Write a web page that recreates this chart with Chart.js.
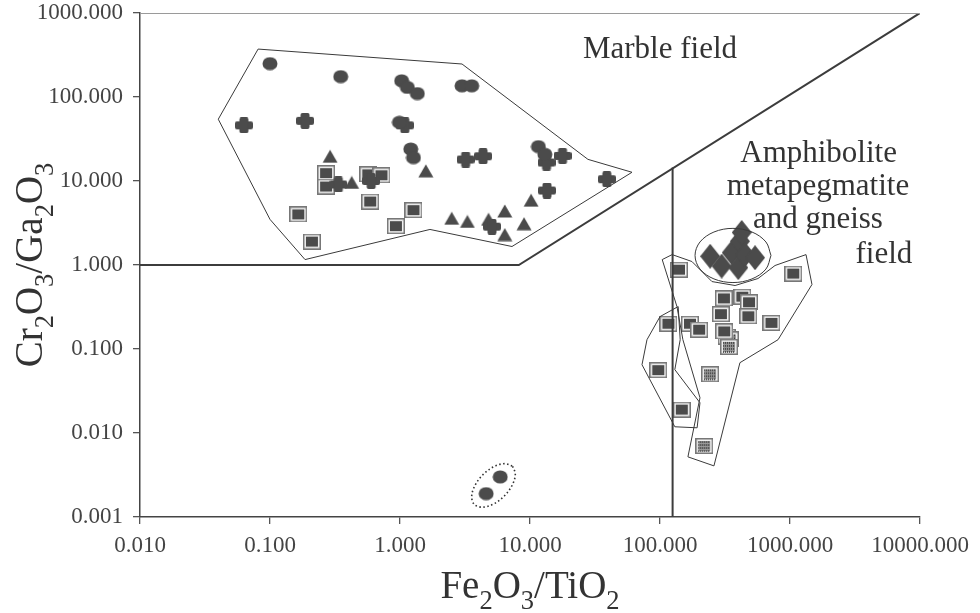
<!DOCTYPE html>
<html><head><meta charset="utf-8">
<script src="https://cdn.jsdelivr.net/npm/chart.js@4/dist/chart.umd.min.js"></script>
<style>html,body{margin:0;padding:0;background:#fff}#wrap{width:980px;height:613px}</style>
</head><body><div id="wrap"><canvas id="c" width="980" height="613"></canvas></div>
<script>
// ---------- DATA ----------
const xTicks = [0.01, 0.1, 1, 10, 100, 1000, 10000];
const yTicks = [0.001, 0.01, 0.1, 1, 10, 100, 1000];

const circles = [[0.10,250],[0.35,175],[1.03,156],[1.14,130],[1.36,110],[3.0,136],[3.56,136],
  [0.99,50],[1.21,24],[1.27,19],[11.6,25.7],[13.0,20.8],[5.9,0.0030],[4.6,0.0019]];
const crosses = [[0.063,46],[0.186,52],[1.09,46],[0.335,9.1],[0.60,10],[3.2,18],[4.35,19.7],
  [13.4,16.6],[17.8,19.9],[13.5,7.7],[39,10.5],[5.1,2.86]];
const triangles = [[0.29,19.7],[0.425,9.6],[1.58,13.2],[2.5,3.6],[3.3,3.3],[4.8,3.5],[6.4,4.4],
  [6.4,2.3],[9.0,3.1],[10.2,5.9]];
const framedSquares = [[0.27,12.4],[0.27,8.6],[0.57,12.0],[0.72,11.7],[0.59,5.7],[0.165,4.0],
  [1.27,4.5],[0.93,2.9],[0.21,1.9],
  [140,0.88],[1060,0.79],[310,0.40],[430,0.42],[484,0.36],[294,0.26],[478,0.245],[720,0.205],
  [116,0.20],[170,0.20],[200,0.17],[312,0.162],[97,0.056],[147,0.019]];
const texturedSquares = [[326,0.14],[345,0.13],[340,0.106],[243,0.050],[219,0.0070]];
const diamonds = [[243,1.27],[298,0.97],[356,1.40],[412,1.92],[425,2.44],[400,0.93],[451,1.33],[538,1.22]];

// field boundaries
const marbleBoundary = [[0.01,1],[8.2,1],[10000,1000]];
const amphiboliteBoundary = [[125,0.001],[125,14.5]];

// group outlines
const marbleOutline = [[0.081,372],[3.0,247],[27.9,18.1],[60.9,12.7],[7.27,1.66],[1.70,2.65],
  [0.186,1.16],[0.10,3.49],[0.040,54.4],[0.081,372]];
const diamondOutline = [[714,1.30],[653,1.88],[510,2.47],[364,2.73],[260,2.47],[203,1.88],[186,1.30],
  [203,0.895],[260,0.683],[364,0.618],[510,0.683],[653,0.895],[714,1.30]];
const rightOutline = [[104,1.16],[135,0.32],[150,0.129],[203,0.0263],[164,0.0052],[260,0.00406],
  [412,0.0687],[809,0.129],[1476,0.586],[1328,1.33],[767,0.986],[567,0.69],[378,0.57],[251,0.635],
  [176,1.10],[124,1.33],[104,1.16]];
const lowerOutline = [[100,0.243],[138,0.32],[143,0.129],[130,0.0568],[203,0.0229],[193,0.01153],
  [130,0.01186],[72.7,0.065],[79.4,0.129],[100,0.243]];
const dottedOutline = [[7.35,0.00402],[7.71,0.00323],[7.30,0.0024],[6.32,0.00177],[5.20,0.00142],
  [4.30,0.00131],[3.73,0.00141],[3.56,0.00175],[3.76,0.00235],[4.34,0.00318],[5.27,0.00397],
  [6.39,0.00432],[7.35,0.00402]];

const annotations = [
  {text:'Marble field', x:100, y:362},
  {text:'Amphibolite', x:1660, y:20.8},
  {text:'metapegmatite', x:1640, y:8.6},
  {text:'and gneiss', x:1640, y:3.4},
  {text:'field', x:5280, y:1.33}
];

// ---------- STYLES ----------
const FONT = "'Liberation Serif', 'DejaVu Serif', serif";
const MARK = '#4b4b4b';
const LINE = '#3a3a3a';

function mk(w, h, draw) {
  const c = document.createElement('canvas');
  c.width = w; c.height = h;
  draw(c.getContext('2d'), w, h);
  return c;
}
const circleImg = mk(16, 14, (g, w, h) => {
  g.fillStyle = MARK; g.beginPath(); g.ellipse(w/2, h/2, 7.5, 6.6, 0, 0, Math.PI*2); g.fill();
});
const crossImg = mk(18, 16, (g, w, h) => {
  g.fillStyle = MARK;
  g.beginPath(); g.roundRect(0, 4, 18, 8, 2); g.fill();
  g.beginPath(); g.roundRect(4.5, 0, 9, 16, 2); g.fill();
});
const triImg = mk(16, 14, (g, w, h) => {
  g.fillStyle = MARK; g.beginPath(); g.moveTo(w/2, 0.5); g.lineTo(w-0.5, h-0.5); g.lineTo(0.5, h-0.5); g.closePath(); g.fill();
});
const sqImg = mk(18, 16, (g, w, h) => {
  g.fillStyle = '#777'; g.fillRect(0, 0, w, h);
  g.fillStyle = '#f4f4f4'; g.fillRect(1.5, 1.5, w-3, h-3);
  g.fillStyle = MARK; g.fillRect(3, 3, w-6, h-6);
});
const texImg = mk(18, 16, (g, w, h) => {
  g.fillStyle = '#777'; g.fillRect(0, 0, w, h);
  g.fillStyle = '#f4f4f4'; g.fillRect(1.5, 1.5, w-3, h-3);
  g.fillStyle = '#9a9a9a'; g.fillRect(3, 3, w-6, h-6);
  g.fillStyle = '#3e3e3e';
  for (let i = 3; i < w-3; i += 2) for (let j = 3; j < h-3; j += 3) g.fillRect(i, j, 1, 2);
});
const diaImg = mk(20, 25, (g, w, h) => {
  g.fillStyle = MARK; g.beginPath(); g.moveTo(w/2, 0); g.lineTo(w, h/2); g.lineTo(w/2, h); g.lineTo(0, h/2); g.closePath(); g.fill();
});

const xy = arr => arr.map(p => ({x: p[0], y: p[1]}));
const lineDs = (arr, opts) => Object.assign({data: xy(arr), showLine: true, pointRadius: 0, pointHoverRadius: 0,
  borderColor: LINE, borderWidth: 1, fill: false, tension: 0}, opts);
const ptDs = (arr, img) => ({data: xy(arr), showLine: false, pointStyle: img, pointRadius: 8, pointHoverRadius: 8});

// ---------- PLUGIN: titles, annotations, frame ----------
function drawSub(ctx, parts, size) {
  const sub = size * 0.68;
  let total = 0;
  const ws = parts.map(([t, s]) => { ctx.font = (s ? sub : size) + 'px ' + FONT; const w = ctx.measureText(t).width; total += w; return w; });
  let x = -total / 2;
  parts.forEach(([t, s], i) => {
    ctx.font = (s ? sub : size) + 'px ' + FONT;
    ctx.fillText(t, x, s ? size * 0.28 : 0);
    x += ws[i];
  });
}
const deco = {
  id: 'deco',
  afterDraw(chart) {
    const {ctx, chartArea: a, scales} = chart;
    ctx.save();
    ctx.strokeStyle = '#9a9a9a'; ctx.lineWidth = 1;
    ctx.beginPath(); ctx.moveTo(a.left, a.top + 0.5); ctx.lineTo(a.right, a.top + 0.5); ctx.stroke();
    ctx.fillStyle = '#333'; ctx.textBaseline = 'middle'; ctx.textAlign = 'center';
    ctx.font = '31px ' + FONT;
    annotations.forEach(t => {
      ctx.fillText(t.text, scales.x.getPixelForValue(t.x), scales.y.getPixelForValue(t.y));
    });
    ctx.textAlign = 'left'; ctx.textBaseline = 'alphabetic';
    ctx.save();
    ctx.translate((a.left + a.right) / 2, 598);
    drawSub(ctx, [['Fe',0],['2',1],['O',0],['3',1],['/TiO',0],['2',1]], 39);
    ctx.restore();
    ctx.save();
    ctx.translate(42, 265);
    ctx.rotate(-Math.PI / 2);
    drawSub(ctx, [['Cr',0],['2',1],['O',0],['3',1],['/Ga',0],['2',1],['O',0],['3',1]], 39);
    ctx.restore();
    ctx.restore();
  }
};

const tickCfg = {font: {family: FONT, size: 23}, color: '#444', autoSkip: false, maxRotation: 0,
  callback: v => Number(v).toFixed(3)};
const gridCfg = {display: true, drawOnChartArea: false, drawTicks: true, tickLength: 7, color: '#555', lineWidth: 1.3};

new Chart(document.getElementById('c'), {
  type: 'scatter',
  data: {datasets: [
    lineDs(marbleOutline),
    lineDs(diamondOutline, {tension: 0.35}),
    lineDs(rightOutline),
    lineDs(lowerOutline),
    lineDs(dottedOutline, {tension: 0.35, borderDash: [1.5, 2.5], borderWidth: 1.6, borderColor: '#333'}),
    lineDs(marbleBoundary, {borderWidth: 2, borderColor: '#3c3c3c'}),
    lineDs(amphiboliteBoundary, {borderWidth: 2, borderColor: '#3c3c3c'}),
    ptDs(circles, circleImg),
    ptDs(crosses, crossImg),
    ptDs(triangles, triImg),
    ptDs(framedSquares, sqImg),
    ptDs(texturedSquares, texImg),
    ptDs(diamonds, diaImg)
  ]},
  options: {
    responsive: false, animation: false, devicePixelRatio: 1,
    layout: {padding: {top: 13, right: 60, left: 0, bottom: 0}},
    plugins: {legend: {display: false}, tooltip: {enabled: false}},
    scales: {
      x: {type: 'logarithmic', min: 0.01, max: 10000,
        afterBuildTicks: s => { s.ticks = xTicks.map(v => ({value: v})); },
        afterFit: s => { s.height = 96; s.paddingLeft = 0; s.paddingRight = 0; },
        ticks: Object.assign({padding: 8}, tickCfg), grid: gridCfg,
        border: {display: true, color: '#444', width: 1.5}},
      y: {type: 'logarithmic', min: 0.001, max: 1000,
        afterBuildTicks: s => { s.ticks = yTicks.map(v => ({value: v})); },
        afterFit: s => { s.width = 140; s.paddingTop = 0; s.paddingBottom = 0; },
        ticks: Object.assign({padding: 10}, tickCfg), grid: gridCfg,
        border: {display: true, color: '#444', width: 1.5}}
    }
  },
  plugins: [deco]
});
</script></body></html>
